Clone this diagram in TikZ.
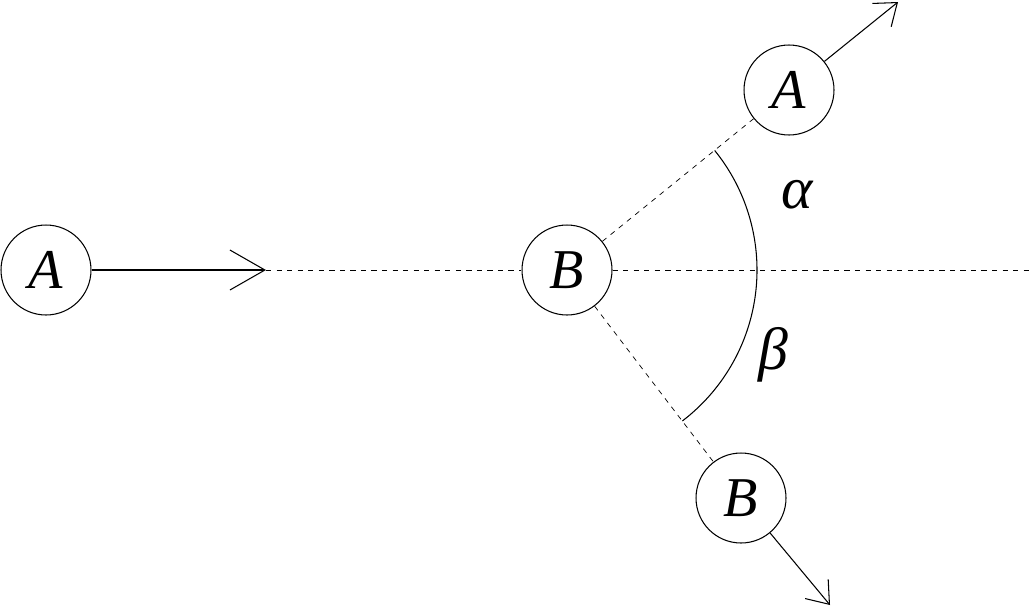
\documentclass[tikz,border=0pt]{standalone}
\usepackage{fontspec}
\setmainfont{Liberation Serif}
\usetikzlibrary{arrows.meta}

\begin{document}
\begin{tikzpicture}[x=0.02cm, y=-0.02cm,
    ball/.style={circle, draw=black, semithick, minimum size=1.8cm, inner sep=0pt, font=\fontsize{32}{38}\selectfont\itshape},
    greek/.style={font=\fontsize{34}{40}\selectfont\itshape},
    track/.style={dashed, thin},
    motion/.style={-{Straight Barb[length=4mm, width=6mm]}, semithick},
    ]
\useasboundingbox (0,0) rectangle (1030,609);

\node[ball] (ain) at (46,270) {A};
\node[ball] (bt) at (567,270) {B};
\node[ball] (aout) at (789,90) {A};
\node[ball] (bout) at (741,498) {B};
\coordinate (tip) at (266,270);
\coordinate (far) at (1030,270);
\coordinate (aend) at (898,2);
\coordinate (bend) at (830,605);

\draw[-{Straight Barb[length=7mm, width=8mm]}, semithick] (ain) -- (tip);
\draw[track] (tip) -- (bt);
\draw[track] (bt) -- (far);
\draw[track] (bt) -- (aout);
\draw[track] (bt) -- (bout);
\draw[motion] (aout) -- (aend);
\draw[motion] (bout) -- (bend);

% scattering angles
\draw[semithick] (bt.center) ++(-39:190) arc[start angle=-39, end angle=52.6, radius=190];
\node[greek] (alpha) at (797,195) {α};
\node[greek] (beta) at (773,355) {β};

\end{tikzpicture}
\end{document}
